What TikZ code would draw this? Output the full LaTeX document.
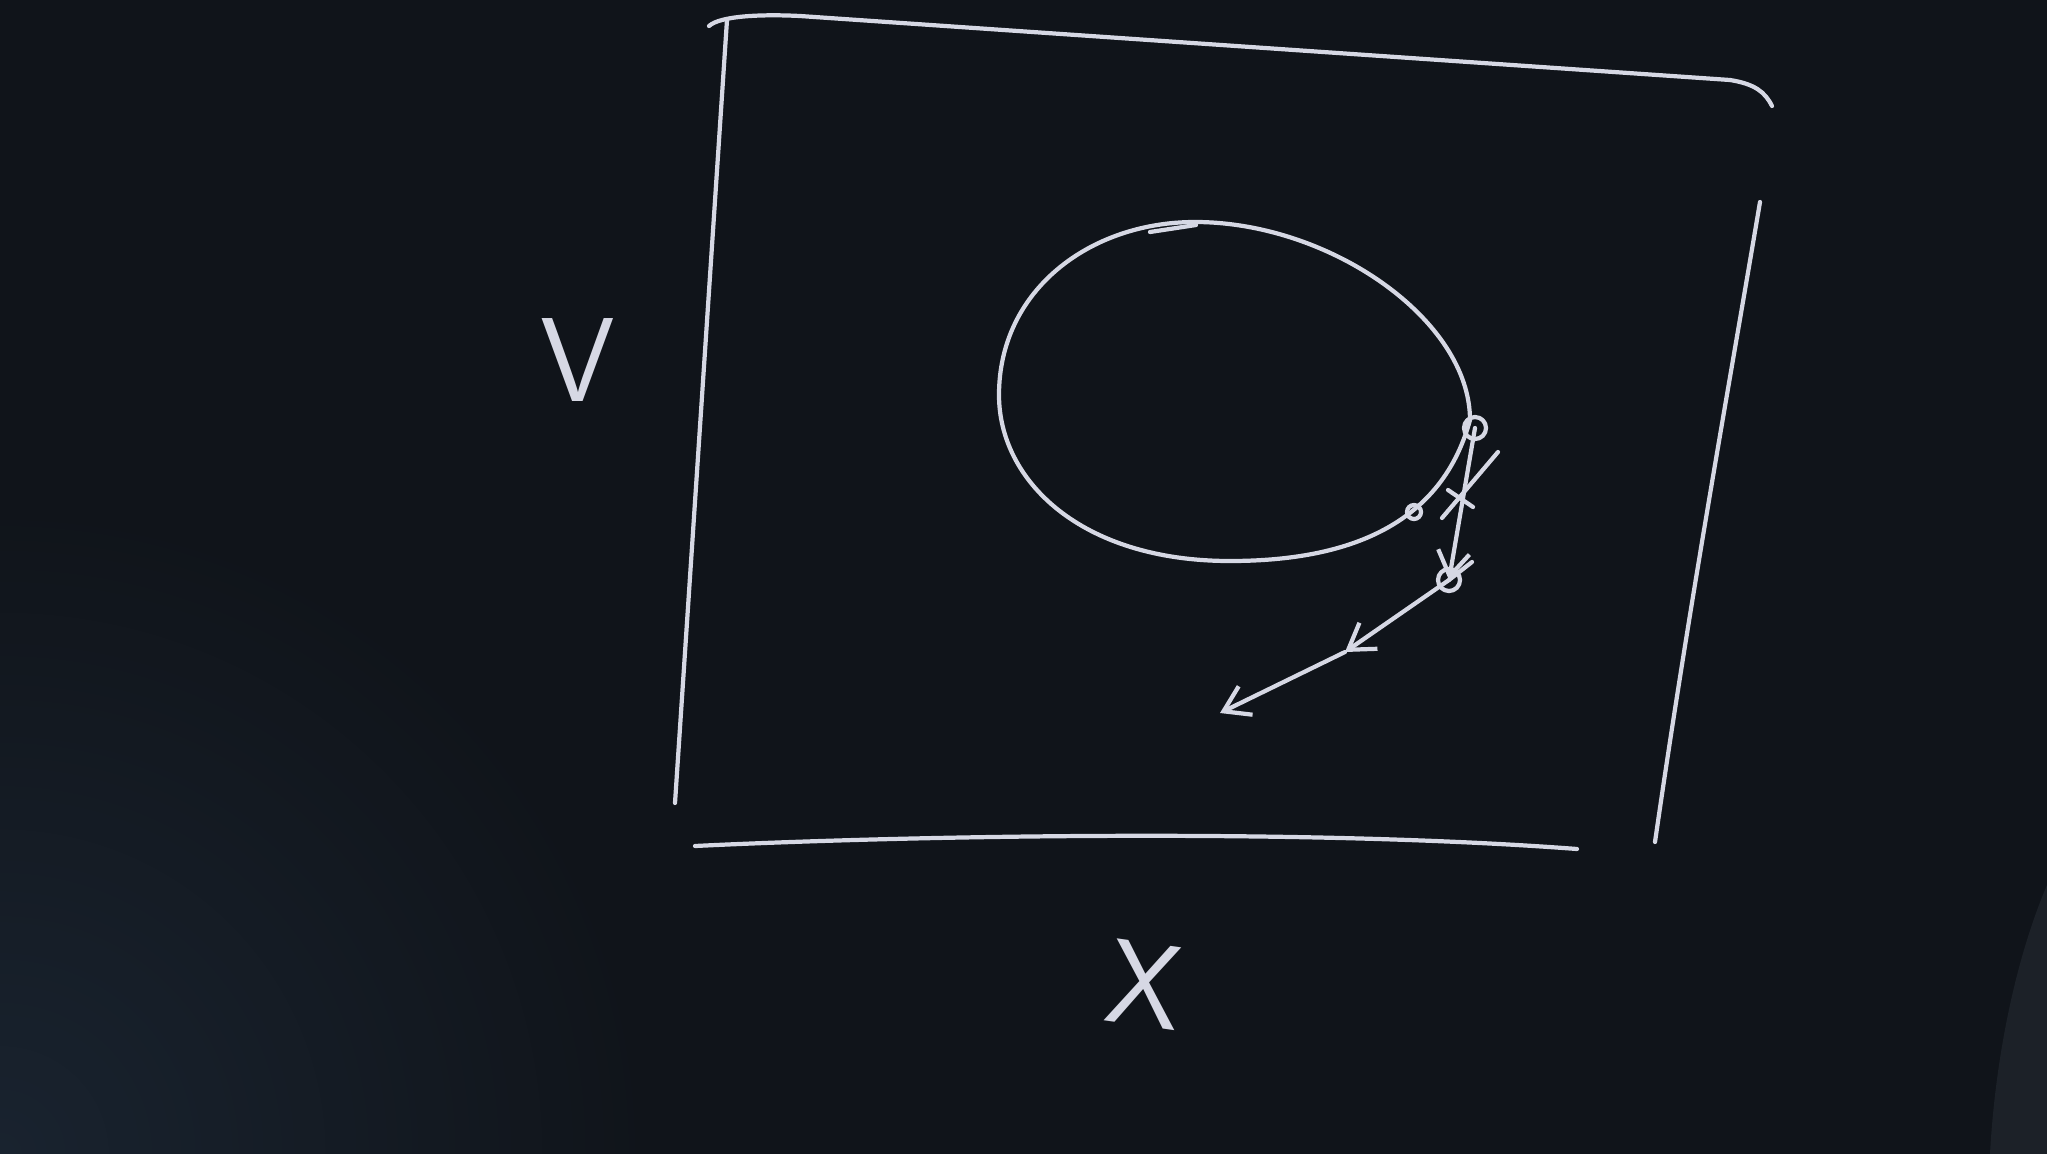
\documentclass[tikz,border=0pt]{standalone}
\usepackage{tikz}
\usetikzlibrary{arrows.meta}
\definecolor{bbBlack}{HTML}{10141A}
\definecolor{bbBlue}{HTML}{19232F}
\definecolor{bbShade}{HTML}{1C2128}
\definecolor{chalk}{HTML}{D6D8E4}

\begin{document}
\begin{tikzpicture}[x=0.01cm,y=-0.01cm,
    chalkline/.style={draw=chalk, line width=1.2pt, line cap=round, line join=round},
    chalkarrow/.style={chalkline, -{Straight Barb[length=7pt,width=9pt]}},
    chalklabel/.style={text=chalk, font=\fontsize{34}{34}\sffamily, inner sep=0pt}]
    % board
    \fill[bbBlack] (0,0) rectangle (2047,1154);
    \begin{scope}
        \clip (0,0) rectangle (2047,1154);
        \shade[inner color=bbBlue, outer color=bbBlack] (0,1154) circle[radius=650];
        \fill[bbShade] (2047,885) .. controls (2015,960) and (1995,1060) .. (1990,1154) -- (2047,1154) -- cycle;
    \end{scope}
    \useasboundingbox (0,0) rectangle (2047,1154);
    % frame
    \draw[chalkline] (709,26) .. controls (720,16) and (760,14) .. (800,16) -- (1730,80) .. controls (1755,84) and (1765,92) .. (1772,106);
    \draw[chalkline] (727,20) -- (675,803);
    \draw[chalkline] (1760,202) .. controls (1730,380) and (1690,600) .. (1655,842);
    \draw[chalkline] (695,846) .. controls (900,836) and (1300,828) .. (1577,849);
    % axis labels
    \node[chalklabel] (vlabel) at (578,360) {V};
    \node[chalklabel, rotate=-8] (xlabel) at (1145,985) {X};
    % orbit
    \draw[chalkline] (999,395) .. controls (999,290) and (1090,222) .. (1195,222)
        .. controls (1330,222) and (1470,320) .. (1470,420)
        .. controls (1440,530) and (1340,561) .. (1230,561)
        .. controls (1080,561) and (999,480) .. cycle;
    \draw[chalkline] (1150,232) -- (1196,225);
    % kicks
    \coordinate (start) at (1475,428);
    \coordinate (kick) at (1449,580);
    \coordinate (half) at (1345,652);
    \coordinate (stop) at (1220,713);
    \draw[chalkline] (start) circle[radius=11];
    \draw[chalkline] (kick) circle[radius=11];
    \draw[chalkline] (1414,512) circle[radius=7];
    \draw[chalkarrow] (start) -- (kick);
    \draw[chalkarrow] (kick) -- (half);
    \draw[chalkarrow] (half) -- (stop);
    \draw[chalkline] (kick) -- (1472,562);
    % cross mark
    \draw[chalkline] (1498,452) -- (1442,518);
    \draw[chalkline] (1448,490) -- (1473,507);
\end{tikzpicture}
\end{document}
